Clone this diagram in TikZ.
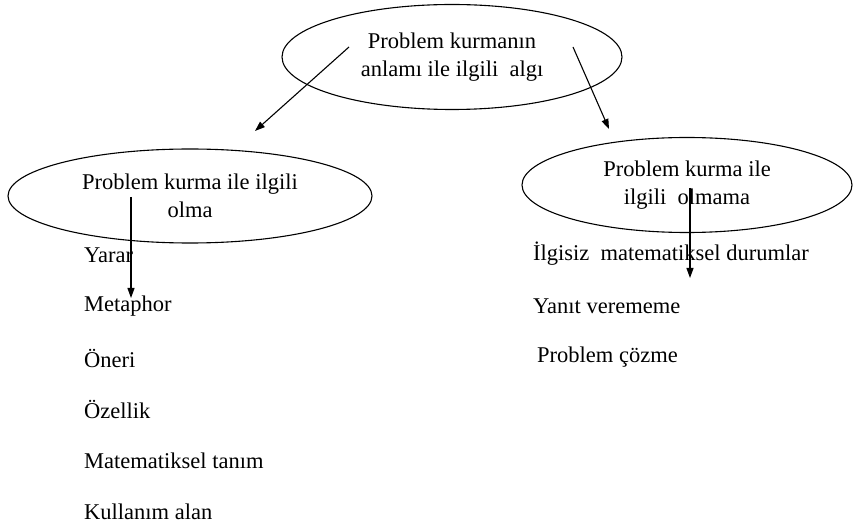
\documentclass[tikz,border=0pt]{standalone}
\usepackage{fontspec}
\setmainfont{Liberation Serif}
\usetikzlibrary{shapes.geometric, arrows.meta, positioning}

\tikzset{
  oval/.style={draw, ellipse, line width=1.1pt, align=center, inner sep=0pt},
  item/.style={anchor=west, inner sep=0pt},
  link/.style={line width=1.1pt, -{Triangle[length=10pt, width=7pt]}}
}

\begin{document}
\begin{tikzpicture}[x=1pt, y=-1pt, font=\fontsize{22.5}{28}\selectfont]
    \useasboundingbox (0,0) rectangle (853,526);

    \node[oval, minimum width=340pt, minimum height=105pt] (algi) at (452,57)
      {Problem kurmanın\\anlamı ile ilgili\ \ algı};
    \node[oval, minimum width=364pt, minimum height=94pt] (ilgili) at (190,196)
      {Problem kurma ile ilgili\\olma};
    \node[oval, minimum width=330pt, minimum height=95pt] (ilgisiz) at (687,185)
      {Problem kurma ile\\ilgili\ \ olmama};

    % left list
    \node[item] (yarar)   at (84,255) {Yarar};
    \node[item] (metafor) at (84,306) {Metaphor};
    \node[item] (oneri)   at (84,358) {Öneri};
    \node[item] (ozellik) at (84,409) {Özellik};
    \node[item] (tanim)   at (84,461) {Matematiksel tanım};
    \node[item] (alan)    at (84,512) {Kullanım alan};

    % right list
    \node[item] (durum) at (533,254) {İlgisiz\ \ matematiksel durumlar};
    \node[item] (yanit) at (533,306) {Yanıt verememe};
    \node[item] (cozme) at (537,357) {Problem çözme};

    \coordinate (a1) at (349,47);
    \coordinate (a2) at (255,131);
    \coordinate (b1) at (573,47);
    \coordinate (b2) at (609,129);
    \coordinate (c1) at (131,197);
    \coordinate (c2) at (131,298);
    \coordinate (d1) at (690,188);
    \coordinate (d2) at (690,278);

    \draw[link] (a1) -- (a2);
    \draw[link] (b1) -- (b2);
    \draw[link] (c1) -- (c2);
    \draw[link] (d1) -- (d2);
\end{tikzpicture}
\end{document}
